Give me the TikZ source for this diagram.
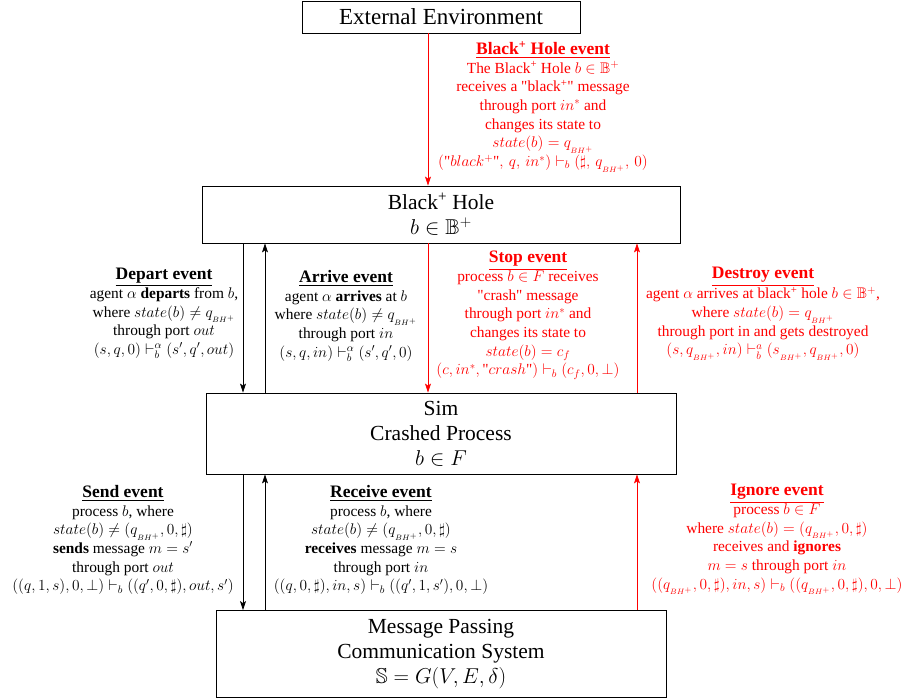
\RequirePackage{fix-cm}
\documentclass[tikz,border=0pt]{standalone}
\usepackage{amsmath,amssymb}
\usepackage{fontspec}
\setmainfont{Liberation Serif}
\usetikzlibrary{arrows.meta}
\newcommand{\qbh}{q_{_{BH^+}}}
\newcommand{\sbh}{s_{_{BH^+}}}
\newcommand{\dq}{\textquotedbl}
\begin{document}
\begin{tikzpicture}[x=1pt,y=-1pt,
  box/.style={draw=black,line width=0.8pt,align=center,inner sep=0pt,
    font=\fontsize{21.5}{25}\selectfont},
  lab/.style={align=center,inner sep=0pt,font=\fontsize{15.4}{18.7}\selectfont},
  redlab/.style={lab,text=red},
  blk/.style={draw=black,line width=0.8pt,-{Stealth[length=9pt,width=6pt,inset=2pt]}},
  rd/.style={blk,draw=red},
]
\useasboundingbox (0,0) rectangle (910,700);
\newcommand{\ttl}[1]{{\fontsize{17.5}{18.7}\selectfont\underline{\textbf{#1}}}}
% boxes
\node[box,minimum width=278,minimum height=32,font=\fontsize{23}{25}\selectfont] (ext) at (441,17) {External Environment};
\node[box,minimum width=478,minimum height=57] (bh) at (441,214.5) {Black\textsuperscript{+} Hole\\ $b\in\mathbb{B}^+$};
\node[box,minimum width=470,minimum height=81] (sim) at (441,433.5) {Sim\\ Crashed Process\\ $b\in F$};
\node[box,minimum width=450,minimum height=87] (mp) at (441,654) {Message Passing\\ Communication System\\ $\mathbb{S}=G(V,E,\delta)$};
% arrow columns
\coordinate (xa) at (243,0);
\coordinate (xb) at (265,0);
\coordinate (xc) at (428,0);
\coordinate (xd) at (637,0);
% arrows
\draw[rd] (xc |- ext.south) -- (xc |- bh.north);
\draw[blk] (xa |- bh.south) -- (xa |- sim.north);
\draw[blk] (xb |- sim.north) -- (xb |- bh.south);
\draw[rd] (xc |- bh.south) -- (xc |- sim.north);
\draw[rd] (xd |- sim.north) -- (xd |- bh.south);
\draw[blk] (xa |- sim.south) -- (xa |- mp.north);
\draw[blk] (xb |- mp.north) -- (xb |- sim.south);
\draw[rd] (xd |- mp.north) -- (xd |- sim.south);
% labels
\node[redlab,anchor=north] (l1) at (543,41) {\ttl{Black\textsuperscript{+} Hole event}\\
The Black\textsuperscript{+} Hole $b\in\mathbb{B}^+$\\
receives a \dq black\textsuperscript{+}\dq{} message\\
through port $in^*$ and\\
changes its state to\\
$state(b)=\qbh$\\
$(\text{\dq}black^+\text{\dq},\,q,\,in^*)\vdash_b(\sharp,\,\qbh,\,0)$};
\node[lab,anchor=north] (l2) at (164,268) {\ttl{Depart event}\\
agent $\alpha$ \textbf{departs} from $b$,\\
where $state(b)\neq\qbh$\\
through port $out$\\
$(s,q,0)\vdash_b^\alpha(s',q',out)$};
\node[lab,anchor=north] (l3) at (346,270) {\ttl{Arrive event}\\
agent $\alpha$ \textbf{arrives} at $b$\\
where $state(b)\neq\qbh$\\
through port $in$\\
$(s,q,in)\vdash_b^\alpha(s',q',0)$};
\node[redlab,anchor=north] (l4) at (528,251) {\ttl{Stop event}\\
process $b\in F$ receives\\
\dq crash\dq{} message\\
through port $in^*$ and\\
changes its state to\\
$state(b)=c_f$\\
$(c,in^*,\text{\dq}crash\text{\dq})\vdash_b(c_f,0,\bot)$};
\node[redlab,anchor=north] (l5) at (763,267) {\ttl{Destroy event}\\
agent $\alpha$ arrives at black\textsuperscript{+} hole $b\in\mathbb{B}^+$,\\
where $state(b)=\qbh$\\
through port in and gets destroyed\\
$(s,\qbh,in)\vdash_b^a(\sbh,\qbh,0)$};
\node[lab,anchor=north] (l6) at (123,485) {\ttl{Send event}\\
process $b$, where\\
$state(b)\neq(\qbh,0,\sharp)$\\
\textbf{sends} message $m=s'$\\
through port $out$\\
$((q,1,s),0,\bot)\vdash_b((q',0,\sharp),out,s')$};
\node[lab,anchor=north] (l7) at (381,485) {\ttl{Receive event}\\
process $b$, where\\
$state(b)\neq(\qbh,0,\sharp)$\\
\textbf{receives} message $m=s$\\
through port $in$\\
$((q,0,\sharp),in,s)\vdash_b((q',1,s'),0,\bot)$};
\node[redlab,anchor=north] (l8) at (777,484) {\ttl{Ignore event}\\
process $b\in F$\\
where $state(b)=(\qbh,0,\sharp)$\\
receives and \textbf{ignores}\\
$m=s$ through port $in$\\
$((\qbh,0,\sharp),in,s)\vdash_b((\qbh,0,\sharp),0,\bot)$};
\end{tikzpicture}
\end{document}
